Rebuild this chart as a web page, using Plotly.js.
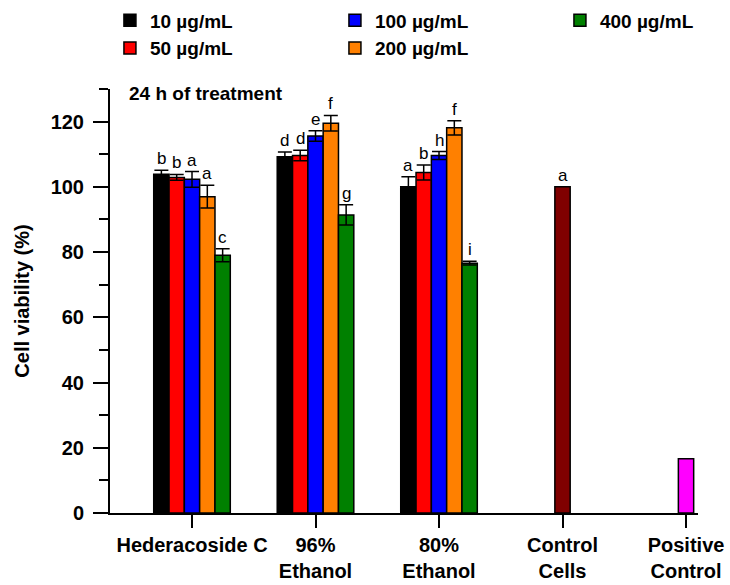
<!DOCTYPE html>
<html>
<head>
<meta charset="utf-8">
<script src="https://cdn.plot.ly/plotly-3.0.1.min.js"></script>
<style>html,body{margin:0;padding:0;background:#fff;}#chart{width:730px;height:585px;}</style>
</head>
<body>
<div id="chart"></div>
<script>
// ---- data ----
var categories = ['Hederacoside C', '96% Ethanol', '80% Ethanol', 'Control Cells', 'Positive Control'];
var tickLabels = ['Hederacoside C', '96%<br>Ethanol', '80%<br>Ethanol', 'Control<br>Cells', 'Positive<br>Control'];
var treatmentCats = ['Hederacoside C', '96% Ethanol', '80% Ethanol'];

var seriesNames = ['10 µg/mL', '50 µg/mL', '100 µg/mL', '200 µg/mL', '400 µg/mL'];
var v10  = [103.9, 109.2, 100.0];
var v50  = [102.9, 109.6, 104.4];
var v100 = [102.3, 115.6, 109.6];
var v200 = [97.0, 119.5, 118.1];
var v400 = [79.0, 91.4, 76.6];
var e10  = [1.2, 1.5, 3.1];
var e50  = [0.9, 1.6, 2.3];
var e100 = [2.4, 1.6, 1.2];
var e200 = [3.5, 2.4, 2.2];
var e400 = [2.0, 3.1, 0.6];
var l10  = ['b', 'd', 'a'];
var l50  = ['b', 'd', 'b'];
var l100 = ['a', 'e', 'h'];
var l200 = ['a', 'f', 'f'];
var l400 = ['c', 'g', 'i'];

var controlCat = ['Control Cells'];
var controlVal = [100.0];
var controlLetter = ['a'];
var positiveCat = ['Positive Control'];
var positiveVal = [16.6];

var yTickVals = [0, 20, 40, 60, 80, 100, 120];

// ---- styles ----
var colors = ['#000000', '#FF0000', '#0000FF', '#FF8000', '#008000'];
var legendRanks = [1, 4, 2, 5, 3];
var values = [v10, v50, v100, v200, v400];
var errors = [e10, e50, e100, e200, e400];
var letters = [l10, l50, l100, l200, l400];
var FONT = 'Liberation Sans, Arial, sans-serif';
var BARGAP = 0.38;
var NSLOT = 5;
var slotW = (1 - BARGAP) / NSLOT;

var traces = [];
var annotations = [];
for (var s = 0; s < 5; s++) {
  traces.push({
    type: 'bar', name: seriesNames[s], x: treatmentCats, y: values[s],
    offsetgroup: 'g' + s, legendrank: legendRanks[s],
    marker: {color: colors[s], line: {color: '#000', width: 1.5}},
    error_y: {type: 'data', array: errors[s], visible: true, color: '#000', thickness: 1.5, width: 7},
    hoverinfo: 'skip'
  });
  for (var c = 0; c < treatmentCats.length; c++) {
    annotations.push({
      xref: 'x', yref: 'y',
      x: categories.indexOf(treatmentCats[c]) + (s - (NSLOT - 1) / 2) * slotW,
      y: values[s][c] + errors[s][c],
      text: letters[s][c], showarrow: false, xanchor: 'center', yanchor: 'bottom',
      font: {family: FONT, size: 17, color: '#000'}
    });
  }
}
traces.push({
  type: 'bar', name: 'Control Cells', x: controlCat, y: controlVal, offsetgroup: 'g2',
  showlegend: false, marker: {color: '#800000', line: {color: '#000', width: 1.5}}, hoverinfo: 'skip'
});
traces.push({
  type: 'bar', name: 'Positive Control', x: positiveCat, y: positiveVal, offsetgroup: 'g2',
  showlegend: false, marker: {color: '#FF00FF', line: {color: '#000', width: 1.5}}, hoverinfo: 'skip'
});
annotations.push({
  xref: 'x', yref: 'y', x: categories.indexOf(controlCat[0]), y: controlVal[0],
  text: controlLetter[0], showarrow: false, xanchor: 'center', yanchor: 'bottom',
  font: {family: FONT, size: 17, color: '#000'}
});
annotations.push({
  xref: 'paper', yref: 'paper', x: 0.029, y: 0.99, text: '24 h of treatment',
  showarrow: false, xanchor: 'left', yanchor: 'middle',
  font: {family: FONT, size: 19, color: '#000', weight: 'bold'}
});

var layout = {
  width: 730, height: 585,
  margin: {l: 110, r: 32, t: 89, b: 72, autoexpand: false},
  paper_bgcolor: '#fff', plot_bgcolor: '#fff',
  barmode: 'group', bargap: BARGAP, bargroupgap: 0,
  font: {family: FONT, color: '#000'},
  showlegend: true,
  legend: {
    orientation: 'h', x: -0.0001, xanchor: 'left', y: 1.2065, yanchor: 'top',
    entrywidth: 180, entrywidthmode: 'pixels', traceorder: 'normal',
    font: {family: FONT, size: 19, color: '#000', weight: 'bold'},
    bgcolor: 'rgba(0,0,0,0)', borderwidth: 0
  },
  xaxis: {
    type: 'category', categoryorder: 'array', categoryarray: categories,
    range: [-0.664, 4.097],
    tickvals: categories, ticktext: tickLabels,
    showline: true, linecolor: '#000', linewidth: 2,
    ticks: 'outside', ticklen: 13, tickwidth: 2, tickcolor: '#000',
    tickfont: {family: FONT, size: 20, color: '#000', weight: 'bold'},
    ticklabelstandoff: 0,
    showgrid: false, zeroline: false, fixedrange: true
  },
  yaxis: {
    range: [0, 130], tickvals: yTickVals,
    showline: true, linecolor: '#000', linewidth: 2,
    ticks: 'outside', ticklen: 15, tickwidth: 2, tickcolor: '#000',
    minor: {ticks: 'outside', ticklen: 9, tickwidth: 2, tickcolor: '#000', tick0: 10, dtick: 20, showgrid: false},
    tickfont: {family: FONT, size: 20, color: '#000', weight: 'bold'},
    ticklabelstandoff: 5,
    title: {text: 'Cell viability (%)', font: {family: FONT, size: 20, color: '#000', weight: 'bold'}, standoff: 16},
    showgrid: false, zeroline: false, fixedrange: true
  },
  annotations: annotations
};

Plotly.newPlot('chart', traces, layout, {displayModeBar: false, staticPlot: true});
</script>
</body>
</html>
